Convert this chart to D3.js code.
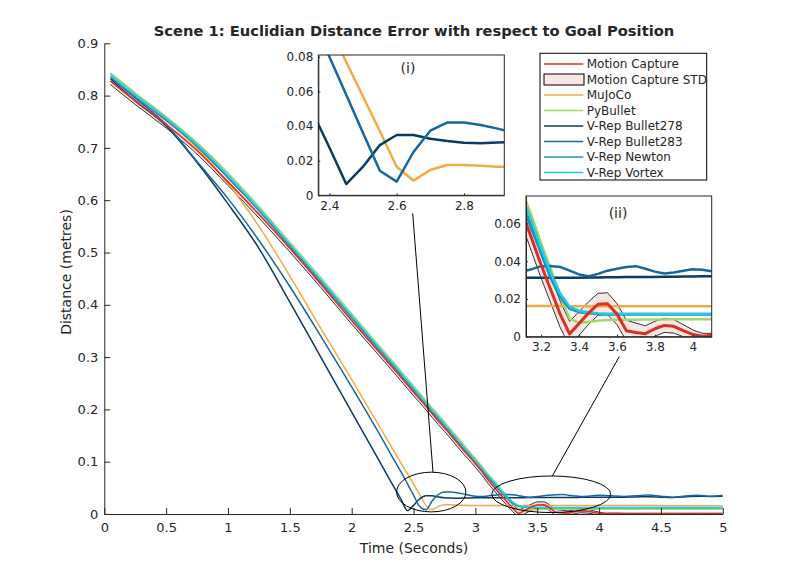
<!DOCTYPE html>
<html><head><meta charset="utf-8">
<script src="https://cdn.jsdelivr.net/npm/d3@7"></script>
<style>body{margin:0;background:#fff} text{font-family:"DejaVu Sans",sans-serif;fill:#262626}</style>
</head><body><svg id="c" width="799" height="579"></svg>
<script>
// ---------- DATA ----------
const timeS = [0.05,0.25,0.5,0.75,1.0,1.25,1.5,1.75,2.0,2.25,2.35,2.4,2.45,2.5,2.55,2.6,2.65,2.7,2.75,2.8,2.85,2.9,2.95,3.0,3.05,3.1,3.15,3.2,3.25,3.3,3.35,3.4,3.45,3.5,3.55,3.6,3.65,3.7,3.75,3.8,3.85,3.9,3.95,4.0,4.05,4.1,4.2,4.3,4.4,4.5,4.6,4.7,4.8,4.9,5.0];
const motionCapture = [0.828,0.79,0.745,0.695,0.635,0.573,0.508,0.44,0.37,0.302,
  0.275,0.261,0.247,0.233,0.22,0.206,0.192,0.178,0.165,0.151,0.137,0.123,0.11,
  0.096,0.082,0.066,0.052,0.038,0.025,0.012,
  0.0015,0.007,0.0125,0.0172,0.0175,0.012,0.0032,0.0022,0.0016,0.0042,0.006,0.0055,0.0032,0.0012,0.0003,0.0008,
  0.0006,0.0005,0.0006,0.0005,0.0006,0.0005,0.0006,0.0005,0.0006];
const motionCaptureStd = [0.007,0.007,0.007,0.007,0.007,0.007,0.007,0.007,0.007,0.007,
  0.007,0.007,0.007,0.007,0.007,0.007,0.007,0.007,0.007,0.007,0.007,0.007,0.007,
  0.007,0.007,0.007,0.007,0.007,0.007,0.007,
  0.0066,0.0063,0.006,0.0058,0.0058,0.0056,0.0055,0.005,0.0042,0.004,0.0037,0.0036,0.0032,0.0024,0.0015,0.001,
  0.001,0.001,0.001,0.001,0.001,0.001,0.001,0.001,0.001];
const mujoco = [0.842,0.805,0.755,0.70,0.632,0.55,0.455,0.355,0.257,0.157,
  0.117,0.097,0.077,0.057,0.037,0.0165,0.0085,0.0146,0.0175,0.0175,0.017,0.0165,0.0163,
  0.0163,0.0163,0.0163,0.0163,0.0163,0.0163,0.0163,
  0.0162,0.0162,0.0162,0.0162,0.0162,0.0162,0.0162,0.0162,0.0162,0.0162,0.0162,0.0162,0.0162,0.0162,0.0162,0.0162,
  0.0162,0.0161,0.0161,0.016,0.016,0.016,0.016,0.016,0.016];
const pybullet = [0.843,0.805,0.76,0.71,0.652,0.588,0.52,0.452,0.383,0.314,
  0.287,0.273,0.259,0.245,0.231,0.217,0.203,0.19,0.176,0.162,0.148,0.134,0.12,
  0.106,0.092,0.077,0.064,0.0495,0.036,0.022,
  0.0095,0.0074,0.0078,0.0085,0.0088,0.009,0.009,0.009,0.0091,0.0091,0.0091,0.0092,0.0092,0.0092,0.0092,0.0092,
  0.0092,0.0092,0.0092,0.0092,0.0092,0.0092,0.0092,0.0092,0.0092];
const bullet278 = [0.832,0.79,0.742,0.672,0.593,0.508,0.405,0.30,0.195,0.09,
  0.048,0.0276,0.0065,0.0165,0.029,0.0348,0.0348,0.0327,0.0313,0.0304,0.030,0.0305,0.0307,
  0.031,0.0311,0.0312,0.0313,0.0313,0.0313,0.0313,
  0.0313,0.0313,0.0314,0.0314,0.0315,0.0315,0.0316,0.0316,0.0317,0.0317,0.0318,0.0318,0.0319,0.0319,0.032,0.032,
  0.0322,0.0326,0.033,0.0322,0.0315,0.033,0.034,0.0335,0.0338];
const bullet283 = [0.835,0.795,0.745,0.674,0.603,0.523,0.435,0.34,0.243,0.142,
  0.10,0.08,0.058,0.036,0.0142,0.0079,0.025,0.0373,0.042,0.042,0.0406,0.0385,0.036,
  0.034,0.0335,0.0345,0.0358,0.0374,0.0375,0.037,
  0.035,0.033,0.032,0.0333,0.035,0.036,0.037,0.0374,0.036,0.0345,0.0335,0.034,0.035,0.0358,0.0355,0.0347,
  0.0335,0.035,0.0365,0.034,0.032,0.0345,0.036,0.034,0.0355];
const newton = [0.836,0.798,0.753,0.703,0.644,0.58,0.512,0.444,0.375,0.306,
  0.279,0.265,0.251,0.237,0.223,0.209,0.195,0.182,0.168,0.154,0.14,0.126,0.112,
  0.098,0.084,0.07,0.057,0.044,0.031,0.021,
  0.0148,0.013,0.0124,0.012,0.0118,0.0118,0.0118,0.0118,0.0118,0.0118,0.0118,0.0118,0.0118,0.0118,0.0118,0.0118,
  0.0118,0.0118,0.0118,0.0118,0.0118,0.0118,0.0118,0.0118,0.0118];
const vortex = [0.84,0.802,0.757,0.707,0.648,0.584,0.516,0.448,0.379,0.31,
  0.283,0.269,0.255,0.241,0.227,0.213,0.199,0.186,0.172,0.158,0.144,0.13,0.116,
  0.102,0.088,0.074,0.061,0.047,0.034,0.023,
  0.016,0.0138,0.013,0.0124,0.0122,0.0122,0.0122,0.0122,0.0122,0.0122,0.0122,0.0122,0.0122,0.0122,0.0122,0.0122,
  0.0122,0.0122,0.0122,0.0122,0.0122,0.0122,0.0122,0.0122,0.0122];

const seriesNames = ["Motion Capture","Motion Capture STD","MuJoCo","PyBullet","V-Rep Bullet278","V-Rep Bullet283","V-Rep Newton","V-Rep Vortex"];
const mainXTicks = [0,0.5,1,1.5,2,2.5,3,3.5,4,4.5,5];
const mainYTicks = [0,0.1,0.2,0.3,0.4,0.5,0.6,0.7,0.8,0.9];
const inset1XTicks = [2.4,2.6,2.8];
const inset1YTicks = [0,0.02,0.04,0.06,0.08];
const inset2XTicks = [3.2,3.4,3.6,3.8,4];
const inset2YTicks = [0,0.02,0.04,0.06];
const titleText = "Scene 1: Euclidian Distance Error with respect to Goal Position";

// ---------- STYLE ----------
const colors = {mc:"#d73027", std:"#fbe6e4", mujoco:"#f5a946", pyb:"#a3d76c", b278:"#0b3a62", b283:"#17679f", newton:"#2190bb", vortex:"#22cce6"};
const lines = [
  {v:mujoco, c:colors.mujoco},
  {v:pybullet, c:colors.pyb},
  {v:bullet278, c:colors.b278},
  {v:bullet283, c:colors.b283},
  {v:newton, c:colors.newton},
  {v:vortex, c:colors.vortex},
  {v:motionCapture, c:colors.mc}
];

const svg = d3.select("#c");
let clipN = 0;

function panel(x, y, xt, yt, opt) {
  const g = svg.append("g");
  const [x0,x1] = x.range(), [y0,y1] = y.range();
  const id = "clip"+(clipN++);
  svg.append("clipPath").attr("id", id).append("rect")
    .attr("x", x0).attr("y", y1).attr("width", x1-x0).attr("height", y0-y1);
  if (opt.box) g.append("rect").attr("x",x0).attr("y",y1).attr("width",x1-x0).attr("height",y0-y1).attr("fill","#fff");
  const pg = g.append("g").attr("clip-path", `url(#${id})`);
  const cv = opt.curve;
  const idx = d3.range(timeS.length);
  pg.append("path").datum(idx)
    .attr("d", d3.area().curve(cv).x(i=>x(timeS[i])).y0(i=>y(motionCapture[i]-motionCaptureStd[i])).y1(i=>y(motionCapture[i]+motionCaptureStd[i])))
    .attr("fill", colors.std).attr("stroke","none");
  [1,-1].forEach(s => pg.append("path").datum(idx)
    .attr("d", d3.line().curve(cv).x(i=>x(timeS[i])).y(i=>y(motionCapture[i]+s*motionCaptureStd[i])))
    .attr("fill","none").attr("stroke","#000").attr("stroke-width", opt.stdW));
  lines.forEach(l => pg.append("path").datum(idx)
    .attr("d", d3.line().curve(cv).x(i=>x(timeS[i])).y(i=>y(l.v[i])))
    .attr("fill","none").attr("stroke", l.c)
    .attr("stroke-width", l.v===motionCapture ? opt.mcW : opt.lw)
    .attr("stroke-linejoin","round"));
  const fmt = d => String(+d.toFixed(3));
  const ax = g.append("g").attr("transform",`translate(0,${y0})`)
    .call(d3.axisBottom(x).tickValues(xt).tickSizeInner(-opt.tick).tickSizeOuter(0).tickPadding(opt.padX).tickFormat(fmt));
  const ay = g.append("g").attr("transform",`translate(${x0},0)`)
    .call(d3.axisLeft(y).tickValues(yt).tickSizeInner(-opt.tick).tickSizeOuter(0).tickPadding(opt.padY).tickFormat(fmt));
  [ax, ay].forEach(a => {
    a.selectAll("text").style("font-size", opt.fs+"px").attr("fill","#262626");
    a.selectAll("line,path").attr("stroke","#262626");
  });
  if (opt.box) {
    g.append("rect").attr("x",x0).attr("y",y1).attr("width",x1-x0).attr("height",y0-y1)
      .attr("fill","none").attr("stroke","#262626").attr("stroke-width",1);
  }
  return g;
}

// main
const xM = d3.scaleLinear([0,5],[104.3,722.8]);
const yM = d3.scaleLinear([0,0.9],[514,43.3]);
panel(xM, yM, mainXTicks, mainYTicks, {box:false, lw:1.5, mcW:1.6, stdW:0.8, tick:6, padX:9, padY:6, fs:13, curve:d3.curveMonotoneX});

// annotations (data coords of main axes)
const ell = [{cx:2.643, cy:0.042, rx:0.28, ry:0.038}, {cx:3.613, cy:0.0377, rx:0.481, ry:0.035}];
const conn = [{t0:2.493, v0:0.575, t1:2.657, v1:0.080}, {t0:4.163, v0:0.3008, t1:3.622, v1:0.0727}];
ell.forEach(e => svg.append("ellipse").attr("cx", xM(e.cx)).attr("cy", yM(e.cy))
  .attr("rx", xM(e.cx+e.rx)-xM(e.cx)).attr("ry", yM(e.cy-e.ry)-yM(e.cy))
  .attr("fill","none").attr("stroke","#000").attr("stroke-width",1));
conn.forEach(c => svg.append("line").attr("x1",xM(c.t0)).attr("y1",yM(c.v0)).attr("x2",xM(c.t1)).attr("y2",yM(c.v1))
  .attr("stroke","#000").attr("stroke-width",1));

// insets
const xI1 = d3.scaleLinear([2.367,2.92],[318.3,504.3]);
const yI1 = d3.scaleLinear([0,0.081],[195.3,55]);
panel(xI1, yI1, inset1XTicks, inset1YTicks, {box:true, lw:2.5, mcW:3, stdW:0.8, tick:2, padX:6, padY:5, fs:12, curve:d3.curveLinear});
svg.append("text").attr("x", 408).attr("y", 73).attr("text-anchor","middle").style("font-size","14px").text("(i)");

const xI2 = d3.scaleLinear([3.12,4.1],[526,711.7]);
const yI2 = d3.scaleLinear([0,0.0746],[336.7,196]);
panel(xI2, yI2, inset2XTicks, inset2YTicks, {box:true, lw:2.5, mcW:3, stdW:0.8, tick:2, padX:6, padY:5, fs:12, curve:d3.curveLinear});
svg.append("text").attr("x", 618).attr("y", 218).attr("text-anchor","middle").style("font-size","14px").text("(ii)");

// titles
svg.append("text").attr("x", 414).attr("y", 36).attr("text-anchor","middle")
  .style("font-size","14.7px").style("font-weight","bold").attr("fill","#000").text(titleText);
svg.append("text").attr("x", 414).attr("y", 553).attr("text-anchor","middle").style("font-size","14px").text("Time (Seconds)");
svg.append("text").attr("transform","translate(71,272) rotate(-90)").attr("text-anchor","middle").style("font-size","14px").text("Distance (metres)");

// legend
const lg = svg.append("g");
lg.append("rect").attr("x",540).attr("y",53.3).attr("width",166.7).attr("height",126.7).attr("fill","#fff").attr("stroke","#000").attr("stroke-width",1);
const legColors = [colors.mc, null, colors.mujoco, colors.pyb, colors.b278, colors.b283, colors.newton, colors.vortex];
seriesNames.forEach((n,i) => {
  const yy = 64 + i*15.5;
  if (legColors[i]) lg.append("line").attr("x1",544).attr("x2",583.3).attr("y1",yy).attr("y2",yy).attr("stroke",legColors[i]).attr("stroke-width",1.5);
  else lg.append("rect").attr("x",544).attr("y",yy-5.5).attr("width",40).attr("height",11).attr("fill",colors.std).attr("stroke","#000").attr("stroke-width",1);
  lg.append("text").attr("x",586.7).attr("y",yy).attr("dy","0.35em").style("font-size","12px").attr("fill","#000").text(n);
});
</script></body></html>
